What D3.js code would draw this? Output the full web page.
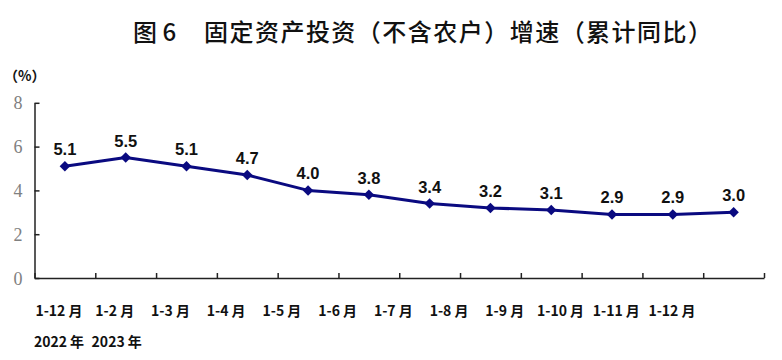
<!DOCTYPE html>
<html>
<head>
<meta charset="utf-8">
<script src="https://cdn.jsdelivr.net/npm/d3@7"></script>
<style>
  html, body { margin: 0; padding: 0; background: #fff; }
  svg { display: block; }
</style>
</head>
<body>
<div id="chart"></div>
<script>
const titleLead = "图 6";
const titleMain = "固定资产投资（不含农户）增速（累计同比）";
const unitLabel = "（%）";
const categories = ["1-12 月","1-2 月","1-3 月","1-4 月","1-5 月","1-6 月","1-7 月","1-8 月","1-9 月","1-10 月","1-11 月","1-12 月"];
const yearLabels = ["2022 年","2023 年"];
const values = [5.1, 5.5, 5.1, 4.7, 4.0, 3.8, 3.4, 3.2, 3.1, 2.9, 2.9, 3.0];
const yTicks = [0, 2, 4, 6, 8];

const W = 782, H = 360;
const svg = d3.select("#chart").append("svg").attr("width", W).attr("height", H);

const x0 = 34.5, x1 = 764, yBottom = 278, yTop = 102.8;
const xIdx = d3.scaleLinear().domain([0, categories.length]).range([x0, x1]);
const xc = i => xIdx(i + 0.5);
const y = d3.scaleLinear().domain([0, 8]).range([yBottom, yTop]);
const xLab = d3.scaleLinear().domain([0, categories.length - 1]).range([59, 672]);

// Title
svg.append("text").attr("x", 133).attr("y", 41)
  .attr("font-family", "'Noto Sans CJK SC', sans-serif").attr("font-size", 24).attr("font-weight", 500)
  .attr("fill", "#111").text(titleLead);
svg.append("text").attr("x", 204).attr("y", 41)
  .attr("font-family", "'Noto Sans CJK SC', sans-serif").attr("font-size", 24).attr("font-weight", 500)
  .attr("fill", "#111").attr("textLength", 508).attr("lengthAdjust", "spacing").text(titleMain);

// Unit
svg.append("text").attr("x", 4).attr("y", 81)
  .attr("font-family", "'Noto Sans CJK SC', sans-serif").attr("font-size", 14).attr("font-weight", 700)
  .attr("fill", "#111").text(unitLabel);

// Y axis
const yAxis = svg.append("g").attr("transform", `translate(${x0},0)`)
  .call(d3.axisLeft(y).tickValues(yTicks).tickSizeInner(-5).tickSizeOuter(0).tickPadding(12).tickFormat(d3.format("d")));
yAxis.select(".domain").attr("stroke", "#222").attr("stroke-width", 1.5);
yAxis.selectAll(".tick line").attr("stroke", "#222").attr("stroke-width", 1.5);
yAxis.selectAll(".tick text").attr("font-family", "'Liberation Serif', serif").attr("font-size", 18)
  .attr("fill", "#808080").attr("dy", "0.34em");

// X axis
const xAxis = svg.append("g").attr("transform", `translate(0,${yBottom})`)
  .call(d3.axisBottom(xIdx).tickValues(d3.range(0, categories.length + 1)).tickSizeInner(-5).tickSizeOuter(0).tickFormat(""));
xAxis.select(".domain").attr("stroke", "#222").attr("stroke-width", 1.5);
xAxis.selectAll(".tick line").attr("stroke", "#222").attr("stroke-width", 1.5);

// Category labels
svg.append("g").selectAll("text").data(categories).join("text")
  .attr("x", (d, i) => xLab(i)).attr("y", 316).attr("text-anchor", "middle")
  .attr("font-family", "'Noto Sans CJK SC', sans-serif").attr("font-size", 14).attr("font-weight", 700)
  .attr("fill", "#111").text(d => d);
svg.append("g").selectAll("text").data(yearLabels).join("text")
  .attr("x", (d, i) => xLab(i) + (i === 1 ? 2 : 0)).attr("y", 347).attr("text-anchor", "middle")
  .attr("font-family", "'Noto Sans CJK SC', sans-serif").attr("font-size", 14).attr("font-weight", 700)
  .attr("fill", "#111").text(d => d);

// Line
const line = d3.line().x((d, i) => xc(i)).y(d => y(d));
svg.append("path").datum(values).attr("d", line)
  .attr("fill", "none").attr("stroke", "#0a0a80").attr("stroke-width", 3).attr("stroke-linejoin", "round");

// Markers
svg.append("g").selectAll("path").data(values).join("path")
  .attr("transform", (d, i) => `translate(${xc(i)},${y(d)})`)
  .attr("d", d3.symbol(d3.symbolDiamond2, 70)())
  .attr("fill", "#0a0a80");

// Data labels
svg.append("g").selectAll("text").data(values).join("text")
  .attr("x", (d, i) => xc(i)).attr("y", d => y(d) - 11).attr("text-anchor", "middle")
  .attr("font-family", "'Liberation Sans', Arial, sans-serif").attr("font-size", 16.5).attr("font-weight", 700)
  .attr("fill", "#111").text(d => d3.format(".1f")(d));
</script>
</body>
</html>
